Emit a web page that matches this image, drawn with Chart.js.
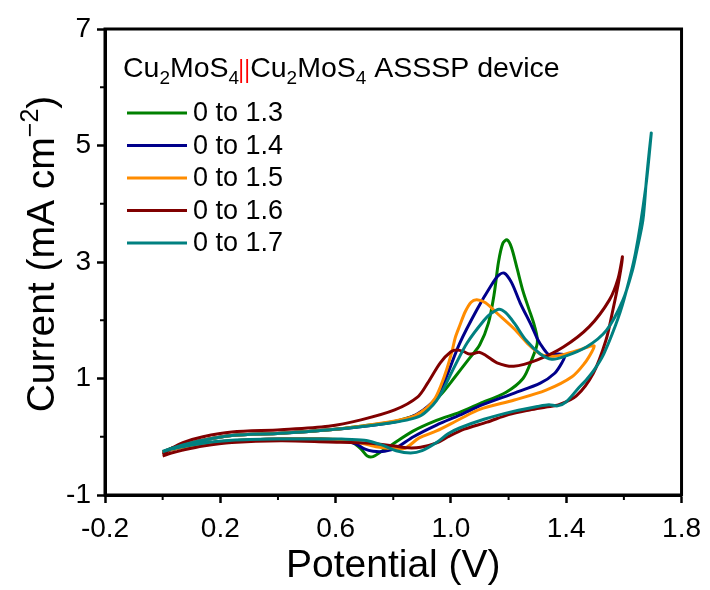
<!DOCTYPE html>
<html><head><meta charset="utf-8">
<script src="https://cdn.jsdelivr.net/npm/chart.js@4/dist/chart.umd.min.js"></script>
<style>html,body{margin:0;padding:0;background:#fff}</style>
</head><body>
<canvas id="c" width="710" height="590"></canvas>
<script>
const FONT = "'Liberation Sans', Arial, sans-serif";

const seriesLabels = ['0 to 1.3', '0 to 1.4', '0 to 1.5', '0 to 1.6', '0 to 1.7'];
const seriesColors = ['#008000', '#00008B', '#FF8C00', '#800000', '#008080'];

// 0 to 1.3 V
const potential13 = [0,0.03,0.07,0.14,0.24,0.41,0.55,0.62,0.66,0.69,0.71,0.73,0.76,0.80,0.87,0.95,1.03,1.10,1.19,1.25,1.28,1.30,
  1.29,1.27,1.25,1.23,1.21,1.195,1.18,1.165,1.15,1.13,1.10,1.06,1.01,0.97,0.93,0.89,0.84,0.80,0.70,0.58,0.41,0.24,0.14,0.07,0.03,0];
const current13 = [-0.27,-0.22,-0.18,-0.12,-0.07,-0.04,-0.04,-0.06,-0.10,-0.22,-0.33,-0.34,-0.25,-0.12,0.10,0.28,0.42,0.57,0.76,1.00,1.32,1.62,
  1.90,2.20,2.50,2.88,3.25,3.38,3.32,3.00,2.45,1.95,1.58,1.32,1.00,0.75,0.55,0.40,0.31,0.26,0.19,0.12,0.06,0.02,-0.06,-0.14,-0.20,-0.26];

// 0 to 1.4 V
const potential14 = [0,0.03,0.07,0.14,0.24,0.41,0.55,0.62,0.67,0.70,0.73,0.77,0.81,0.87,0.95,1.03,1.11,1.22,1.31,1.36,1.385,1.395,
  1.37,1.34,1.32,1.30,1.28,1.24,1.21,1.185,1.165,1.14,1.09,1.03,0.99,0.96,0.92,0.88,0.84,0.80,0.70,0.58,0.41,0.24,0.14,0.07,0.03,0];
const current14 = [-0.27,-0.22,-0.18,-0.12,-0.07,-0.04,-0.04,-0.06,-0.12,-0.21,-0.25,-0.25,-0.19,0.00,0.20,0.37,0.55,0.75,0.92,1.09,1.27,1.40,
  1.42,1.41,1.52,1.68,1.90,2.30,2.65,2.81,2.77,2.60,2.18,1.60,1.10,0.74,0.52,0.38,0.30,0.25,0.18,0.12,0.06,0.02,-0.06,-0.14,-0.20,-0.26];

// 0 to 1.5 V
const potential15 = [0,0.03,0.07,0.14,0.24,0.41,0.55,0.62,0.68,0.74,0.80,0.84,0.89,0.95,1.03,1.10,1.22,1.33,1.42,1.465,1.488,1.497,
  1.48,1.445,1.39,1.35,1.31,1.27,1.22,1.16,1.12,1.09,1.07,1.05,1.03,1.015,1.005,0.985,0.963,0.945,0.915,0.874,0.805,0.70,0.58,0.41,0.24,0.14,0.07,0.03,0];
const current15 = [-0.27,-0.22,-0.18,-0.12,-0.07,-0.04,-0.04,-0.05,-0.10,-0.17,-0.20,-0.20,-0.02,0.10,0.30,0.47,0.63,0.80,1.03,1.27,1.45,1.56,
  1.55,1.49,1.41,1.38,1.42,1.58,1.85,2.12,2.30,2.35,2.31,2.15,1.90,1.70,1.49,1.15,0.85,0.66,0.49,0.36,0.27,0.19,0.12,0.06,0.02,-0.06,-0.14,-0.20,-0.26];

// 0 to 1.6 V
const potential16 = [0,0.03,0.07,0.14,0.24,0.41,0.575,0.72,0.805,0.85,0.895,0.953,0.99,1.046,1.125,1.20,1.273,1.33,1.375,1.435,1.494,1.538,1.562,1.583,1.595,
  1.58,1.55,1.48,1.39,1.30,1.218,1.16,1.12,1.098,1.08,1.063,1.045,1.022,1.00,0.963,0.919,0.884,0.805,0.688,0.575,0.41,0.24,0.14,0.07,0.03,0];
const current16 = [-0.33,-0.28,-0.23,-0.16,-0.10,-0.07,-0.09,-0.11,-0.16,-0.19,-0.18,-0.10,0.00,0.13,0.25,0.38,0.46,0.51,0.55,0.70,1.09,1.66,2.18,2.69,3.09,
  2.72,2.35,1.89,1.54,1.32,1.21,1.27,1.40,1.45,1.43,1.42,1.46,1.49,1.46,1.27,0.92,0.68,0.46,0.29,0.18,0.12,0.08,0.00,-0.10,-0.20,-0.30];

// 0 to 1.7 V
const potential17 = [0,0.03,0.07,0.14,0.24,0.41,0.55,0.62,0.70,0.76,0.81,0.86,0.90,0.95,0.99,1.03,1.115,1.22,1.30,1.34,1.37,1.40,1.445,1.47,1.50,1.53,1.57,1.60,1.64,1.676,1.695,
  1.688,1.678,1.666,1.645,1.63,1.597,1.54,1.47,1.39,1.35,1.31,1.26,1.22,1.19,1.167,1.14,1.115,1.056,1.012,0.99,0.97,0.95,0.925,0.895,0.85,0.805,0.70,0.58,0.41,0.24,0.14,0.07,0.03,0];
const current17 = [-0.26,-0.21,-0.17,-0.11,-0.06,-0.04,-0.04,-0.04,-0.06,-0.14,-0.24,-0.28,-0.24,-0.10,0.05,0.15,0.30,0.44,0.52,0.55,0.53,0.60,0.85,0.98,1.17,1.42,1.90,2.35,3.15,4.29,5.21,
  4.90,4.40,3.72,3.20,2.86,2.35,1.83,1.54,1.37,1.33,1.42,1.66,1.95,2.13,2.19,2.12,2.00,1.61,1.20,0.98,0.78,0.62,0.48,0.36,0.29,0.25,0.18,0.12,0.06,0.02,-0.06,-0.14,-0.20,-0.25];

const xTicksMajor = [-0.2, 0.2, 0.6, 1.0, 1.4, 1.8];
const yTicksMajor = [-1, 1, 3, 5, 7];

const seriesX = [potential13, potential14, potential15, potential16, potential17];
const seriesY = [current13, current14, current15, current16, current17];

const datasets = seriesLabels.map((lab, i) => ({
  label: lab,
  data: seriesX[i].map((x, j) => ({x: x, y: seriesY[i][j]})),
  borderColor: seriesColors[i],
  backgroundColor: seriesColors[i],
  showLine: true,
  fill: false,
  pointRadius: 0,
  borderWidth: 3,
  tension: 0.3,
  order: seriesLabels.length - i
}));

const decorPlugin = {
  id: 'decor',
  afterDraw(chart) {
    const ctx = chart.ctx;
    const a = chart.chartArea;
    const xs = chart.scales.x, ys = chart.scales.y;
    ctx.save();
    // frame
    ctx.strokeStyle = '#000';
    ctx.lineWidth = 3;
    ctx.strokeRect(a.left, a.top, a.right - a.left, a.bottom - a.top);
    // minor ticks
    ctx.lineWidth = 2;
    for (let i = 0; i < xTicksMajor.length - 1; i++) {
      const px = xs.getPixelForValue((xTicksMajor[i] + xTicksMajor[i + 1]) / 2);
      ctx.beginPath(); ctx.moveTo(px, a.bottom); ctx.lineTo(px, a.bottom + 5); ctx.stroke();
    }
    for (let i = 0; i < yTicksMajor.length - 1; i++) {
      const py = ys.getPixelForValue((yTicksMajor[i] + yTicksMajor[i + 1]) / 2);
      ctx.beginPath(); ctx.moveTo(a.left, py); ctx.lineTo(a.left - 5, py); ctx.stroke();
    }
    // y axis title with superscript
    const size = 39;
    const main = 'Current (mA cm', sup = '\u22122', end = ')';
    ctx.fillStyle = '#000';
    ctx.textBaseline = 'alphabetic';
    ctx.textAlign = 'left';
    ctx.font = size + 'px ' + FONT;
    const wm = ctx.measureText(main).width, we = ctx.measureText(end).width;
    ctx.font = Math.round(size * 0.65) + 'px ' + FONT;
    const ws = ctx.measureText(sup).width;
    const total = wm + ws + we;
    ctx.translate(54, 254);
    ctx.rotate(-Math.PI / 2);
    let x0 = -total / 2;
    ctx.font = size + 'px ' + FONT;
    ctx.fillText(main, x0, 0); x0 += wm;
    ctx.font = Math.round(size * 0.65) + 'px ' + FONT;
    ctx.fillText(sup, x0, -size * 0.42); x0 += ws;
    ctx.font = size + 'px ' + FONT;
    ctx.fillText(end, x0, 0);
    ctx.restore();

    // header text
    ctx.save();
    const hs = 28.5;
    const runs = [
      {t: 'Cu'}, {t: '2', sub: true}, {t: 'MoS'}, {t: '4', sub: true}, {bars: true},
      {t: 'Cu'}, {t: '2', sub: true}, {t: 'MoS'}, {t: '4', sub: true}, {t: ' ASSSP device'}
    ];
    let hx = 123, hy = 77;
    ctx.textBaseline = 'alphabetic';
    ctx.fillStyle = '#000';
    for (const r of runs) {
      if (r.bars) {
        ctx.strokeStyle = '#ff0000';
        ctx.lineWidth = 1.8;
        for (const dx of [2, 8]) {
          ctx.beginPath(); ctx.moveTo(hx + dx, hy - 18); ctx.lineTo(hx + dx, hy + 6); ctx.stroke();
        }
        hx += 11;
        continue;
      }
      const s = r.sub ? Math.round(hs * 0.65) : hs;
      ctx.font = s + 'px ' + FONT;
      ctx.fillText(r.t, hx, hy + (r.sub ? hs * 0.24 : 0));
      hx += ctx.measureText(r.t).width;
    }
    // legend
    const ls = 27;
    ctx.font = ls + 'px ' + FONT;
    ctx.textBaseline = 'middle';
    chart.data.datasets.forEach((d, i) => {
      const ly = 113 + i * 32.5;
      ctx.strokeStyle = d.borderColor;
      ctx.lineWidth = 3;
      ctx.beginPath(); ctx.moveTo(127, ly); ctx.lineTo(187, ly); ctx.stroke();
      ctx.fillStyle = '#000';
      ctx.fillText(d.label, 193, ly + 1);
    });
    ctx.restore();
  }
};

new Chart(document.getElementById('c'), {
  type: 'scatter',
  data: {datasets: datasets},
  plugins: [decorPlugin],
  options: {
    animation: false,
    responsive: false,
    devicePixelRatio: 1,
    layout: {padding: {left: 0, right: 24, top: 29, bottom: 0}},
    plugins: {legend: {display: false}, tooltip: {enabled: false}},
    scales: {
      x: {
        type: 'linear', min: -0.2, max: 1.8,
        afterBuildTicks: s => { s.ticks = xTicksMajor.map(v => ({value: v})); },
        ticks: {callback: v => Number(v).toFixed(1), font: {family: FONT, size: 28}, color: '#000', padding: 9, maxRotation: 0, autoSkip: false},
        grid: {drawOnChartArea: false, tickLength: 8, tickWidth: 2.5, tickColor: '#000'},
        border: {display: true, color: '#000', width: 3},
        title: {display: true, text: 'Potential (V)', font: {family: FONT, size: 39}, color: '#000', padding: {top: 0, bottom: 0}},
        afterFit: s => { s.height = 95; }
      },
      y: {
        type: 'linear', min: -1, max: 7,
        afterBuildTicks: s => { s.ticks = yTicksMajor.map(v => ({value: v})); },
        ticks: {callback: v => String(v), font: {family: FONT, size: 28}, color: '#000', padding: 6},
        grid: {drawOnChartArea: false, tickLength: 8, tickWidth: 2.5, tickColor: '#000'},
        border: {display: true, color: '#000', width: 3},
        title: {display: false},
        afterFit: s => { s.width = 105; }
      }
    }
  }
});
</script>
</body></html>
